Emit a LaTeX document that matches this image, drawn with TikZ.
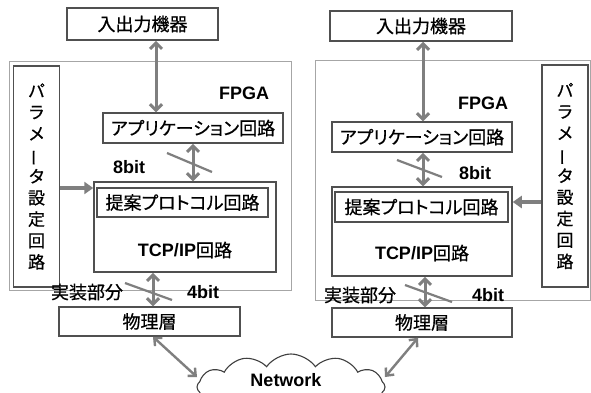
\documentclass[tikz,border=0pt]{standalone}
\usepackage{fontspec}
\setmainfont{Liberation Sans}
\newfontfamily\jp[RawFeature=+palt,FakeBold=0.6]{Noto Sans CJK JP}
\usetikzlibrary{arrows.meta,shapes.symbols}
\definecolor{boxc}{HTML}{505050}
\definecolor{arrc}{HTML}{7F7F7F}
\definecolor{fpgac}{HTML}{A6A6A6}
\newcommand{\vbar}{\rotatebox[origin=c]{90}{ー}}
\tikzset{
  box/.style={draw=boxc, line width=1.5pt, inner sep=0pt, font=\jp\fontsize{18}{20}\selectfont},
  fpgabox/.style={draw=fpgac, line width=0.8pt},
  lbl/.style={font=\bfseries\fontsize{18}{20}\selectfont, inner sep=0pt},
  jlbl/.style={font=\jp\fontsize{18}{20}\selectfont, inner sep=0pt},
  darr/.style={draw=arrc, line width=3pt, {Straight Barb[length=6pt,width=12pt]}-{Straight Barb[length=6pt,width=12pt]}},
  tarr/.style={draw=arrc, line width=3.2pt, -{Triangle[length=9pt,width=12pt]}},
  narr/.style={draw=arrc, line width=2.4pt, {Straight Barb[length=6pt,width=11pt]}-{Straight Barb[length=6pt,width=11pt]}},
  slash/.style={draw=arrc, line width=2.2pt},
  vtext/.style={box, align=center, font=\jp\fontsize{17}{21.4}\selectfont},
}
\begin{document}
\begin{tikzpicture}[x=1pt,y=-1pt]
\useasboundingbox (0,0) rectangle (591,392);
\fill[white] (0,0) rectangle (591,392);

% ---------- left system ----------
\draw[fpgabox] (9,61) rectangle (291,290);
\node[box, minimum width=151pt, minimum height=32pt] (io1) at (142.5,24) {入出力機器};
\node[vtext, minimum width=46pt, minimum height=221pt] (param1) at (36.5,176.5) {パ\\ラ\\メ\\\vbar\\タ\\設\\定\\回\\路};
\node[lbl] (fpga1) at (244,93) {FPGA};
\node[box, minimum width=180pt, minimum height=30pt] (app1) at (193,128) {アプリケーション回路};
\node[box, minimum width=182pt, minimum height=90pt] (tcp1) at (185,227) {};
\node[box, minimum width=171pt, minimum height=29pt] (prop1) at (182.5,202.5) {提案プロトコル回路};
\node[lbl] (tcpl1) at (185,250) {TCP/IP{\jp\mdseries 回路}};
\node[box, minimum width=181pt, minimum height=29pt] (phy1) at (149.5,321.5) {物理層};
\node[lbl] (b8l) at (129,167) {8bit};
\node[jlbl] (impl1) at (87,292) {実装部分};
\node[lbl] (b4l) at (203,292) {4bit};

\coordinate (c1) at (156,0);
\coordinate (c2) at (153,0);
\coordinate (s1a) at (167,153); \coordinate (s1b) at (212,172);
\coordinate (s2a) at (125,283); \coordinate (s2b) at (172,300);
\coordinate (pa1) at (0,188);

\draw[darr] (io1.south -| c1) -- (app1.north -| c1);
\draw[darr] (app1.south) -- (tcp1.north -| app1.south);
\draw[slash] (s1a) -- (s1b);
\draw[tarr] (param1.east |- pa1) -- (tcp1.west |- pa1);
\draw[darr] (tcp1.south -| c2) -- (phy1.north -| c2);
\draw[slash] (s2a) -- (s2b);

% ---------- right system ----------
\draw[fpgabox] (315,60) rectangle (590,300);
\node[box, minimum width=182pt, minimum height=30pt] (io2) at (421,26) {入出力機器};
\node[vtext, minimum width=46pt, minimum height=222pt] (param2) at (565,176) {パ\\ラ\\メ\\\vbar\\タ\\設\\定\\回\\路};
\node[lbl] (fpga2) at (483,103) {FPGA};
\node[box, minimum width=180pt, minimum height=30pt] (app2) at (422,137) {アプリケーション回路};
\node[box, minimum width=180pt, minimum height=89pt] (tcp2) at (422,231.5) {};
\node[box, minimum width=173pt, minimum height=30pt] (prop2) at (421.5,207) {提案プロトコル回路};
\node[lbl] (tcpl2) at (422,253) {TCP/IP{\jp\mdseries 回路}};
\node[box, minimum width=180pt, minimum height=29pt] (phy2) at (422,322.5) {物理層};
\node[lbl] (b8r) at (475,173) {8bit};
\node[jlbl] (impl2) at (360,295) {実装部分};
\node[lbl] (b4r) at (488,295) {4bit};

\coordinate (c3) at (423,0);
\coordinate (c4) at (425,0);
\coordinate (s3a) at (397,160); \coordinate (s3b) at (442,177);
\coordinate (s4a) at (405,285); \coordinate (s4b) at (452,302);
\coordinate (pa2) at (0,202);

\draw[darr] (io2.south -| c3) -- (app2.north -| c3);
\draw[darr] (app2.south -| c3) -- (tcp2.north -| c3);
\draw[slash] (s3a) -- (s3b);
\draw[tarr] (param2.west |- pa2) -- (tcp2.east |- pa2);
\draw[darr] (tcp2.south -| c4) -- (phy2.north -| c4);
\draw[slash] (s4a) -- (s4b);

% ---------- network ----------
\node[cloud, cloud ignores aspect, draw=black!75, line width=1.1pt, cloud puffs=12, cloud puff arc=110,
      minimum width=188pt, minimum height=66pt, inner sep=0pt] (net) at (291,387) {};
\node[lbl] (netl) at (286,380) {Network};
\coordinate (n1) at (197,377);
\coordinate (n2) at (385,377);
\coordinate (p1) at (153,0);
\coordinate (p2) at (418,0);
\draw[narr] (phy1.south -| p1) -- (n1);
\draw[narr] (phy2.south -| p2) -- (n2);
\end{tikzpicture}
\end{document}
